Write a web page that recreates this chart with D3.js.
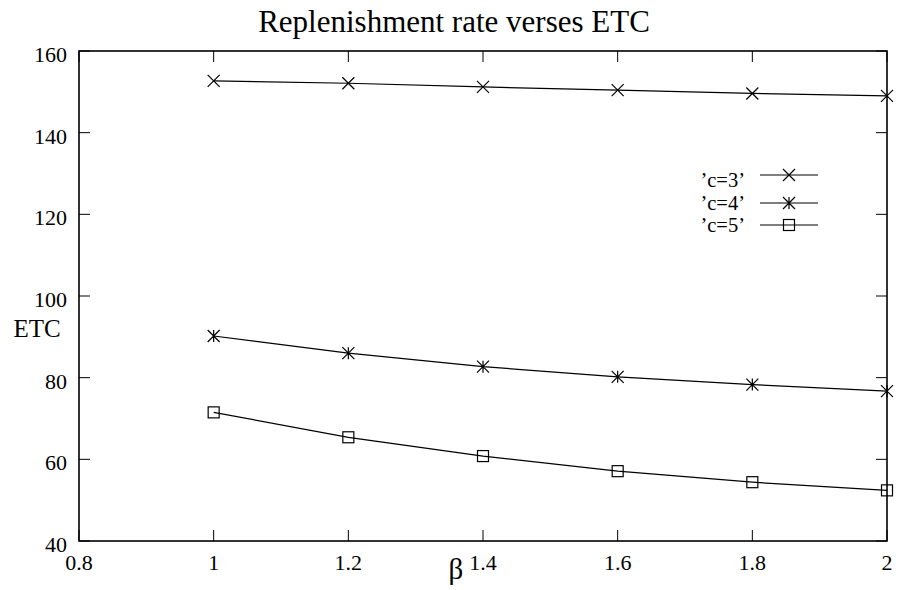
<!DOCTYPE html>
<html><head><meta charset="utf-8">
<script src="https://cdn.jsdelivr.net/npm/d3@7"></script>
<style>body{margin:0;background:#fff}text{font-family:"Liberation Serif","Times New Roman",serif;fill:#000}</style>
</head><body><svg id="c" width="901" height="590"></svg>
<script>
const betas = [1, 1.2, 1.4, 1.6, 1.8, 2];
const c3 = [152.7, 152.1, 151.2, 150.4, 149.6, 149.0];
const c4 = [90.2, 86.0, 82.7, 80.2, 78.3, 76.7];
const c5 = [71.5, 65.4, 60.8, 57.1, 54.4, 52.4];
const seriesNames = ["’c=3’", "’c=4’", "’c=5’"];
const xTicks = [0.8, 1, 1.2, 1.4, 1.6, 1.8, 2];
const yTicks = [40, 60, 80, 100, 120, 140, 160];

const svg = d3.select("#c");
const L = 79, R = 887, T = 51, B = 541;
const x = d3.scaleLinear().domain([0.8, 2]).range([L, R]);
const y = d3.scaleLinear().domain([40, 160]).range([B, T]);
const tl = 11;

svg.append("text").attr("x", 454).attr("y", 32).attr("text-anchor", "middle")
  .style("font-size", "31px").text("Replenishment rate verses ETC");

const g = svg.append("g");
xTicks.forEach(t => {
  g.append("line").attr("x1", x(t)).attr("x2", x(t)).attr("y1", B).attr("y2", B - tl).attr("stroke", "#000");
  g.append("line").attr("x1", x(t)).attr("x2", x(t)).attr("y1", T).attr("y2", T + tl).attr("stroke", "#000");
  g.append("text").attr("x", x(t)).attr("y", 570).attr("text-anchor", "middle")
    .style("font-size", "22px").text(d3.format("")(t));
});
yTicks.forEach(t => {
  g.append("line").attr("x1", L).attr("x2", L + tl).attr("y1", y(t)).attr("y2", y(t)).attr("stroke", "#000");
  g.append("line").attr("x1", R).attr("x2", R - tl).attr("y1", y(t)).attr("y2", y(t)).attr("stroke", "#000");
  g.append("text").attr("x", 67).attr("y", y(t) + 11).attr("text-anchor", "end")
    .style("font-size", "22px").text(t);
});
g.append("rect").attr("x", L).attr("y", T).attr("width", R - L).attr("height", B - T)
  .attr("fill", "none").attr("stroke", "#000").attr("stroke-width", 1.6);

svg.append("text").attr("x", 456).attr("y", 579).attr("text-anchor", "middle")
  .style("font-size", "29px").text("β");
svg.append("text").attr("x", 37).attr("y", 337).attr("text-anchor", "middle")
  .style("font-size", "25px").text("ETC");

function marker(sel, type, cx, cy) {
  const s = sel.append("g").attr("transform", `translate(${cx},${cy})`)
    .attr("stroke", "#000").attr("stroke-width", 1.2).attr("fill", "none");
  const h = 6;
  if (type === 0) {
    s.append("path").attr("d", `M${-h},${-h}L${h},${h}M${-h},${h}L${h},${-h}`);
  } else if (type === 1) {
    s.append("path").attr("d", `M${-h},${-h}L${h},${h}M${-h},${h}L${h},${-h}M0,${-h}L0,${h}`);
  } else {
    s.append("rect").attr("x", -5.5).attr("y", -5.5).attr("width", 11).attr("height", 11);
  }
}

const data = [c3, c4, c5];
const line = d3.line().x((d, i) => x(betas[i])).y(d => y(d));
data.forEach((vals, k) => {
  svg.append("path").datum(vals).attr("d", line).attr("fill", "none")
    .attr("stroke", "#000").attr("stroke-width", 1.2);
  vals.forEach((v, i) => marker(svg, k, x(betas[i]), y(v)));
});

const legLineY = [175, 203, 225];
const legTextY = [187, 209.5, 232];
seriesNames.forEach((n, k) => {
  svg.append("text").attr("x", 745).attr("y", legTextY[k]).attr("text-anchor", "end")
    .style("font-size", "20.5px").text(n);
  svg.append("line").attr("x1", 760).attr("x2", 818).attr("y1", legLineY[k]).attr("y2", legLineY[k])
    .attr("stroke", "#000").attr("stroke-width", 1.2);
  marker(svg, k, 789, legLineY[k]);
});
</script></body></html>
